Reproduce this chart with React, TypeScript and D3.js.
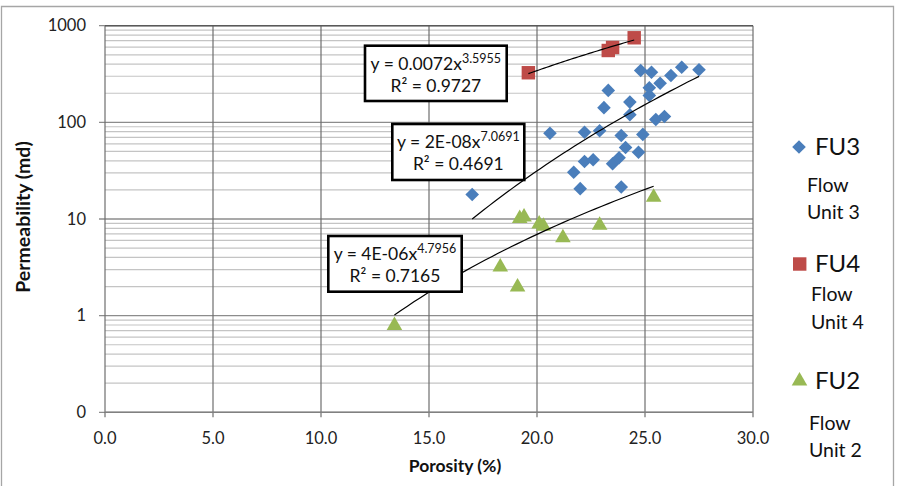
import React from 'react';
import * as d3 from 'd3';

// porosity (%) / permeability (md)
const fu3Porosity = [17.0, 20.6, 22.2, 22.9, 23.3, 23.1, 24.3, 24.3, 24.8, 25.3, 25.2, 25.2, 25.7, 26.2, 26.7, 27.5, 25.5, 25.9, 23.9, 24.9, 24.1, 24.7, 22.2, 22.6, 23.5, 23.8, 21.7, 22.0, 23.9];
const fu3Perm = [17.9, 77, 79, 82, 214, 142, 162, 120, 344, 330, 228, 190, 254, 305, 372, 350, 107, 115, 73, 75, 55, 49, 39.4, 41, 37.3, 43, 30.5, 20.6, 21.4];

const fu4Porosity = [19.6, 23.3, 23.5, 24.5];
const fu4Perm = [326, 554, 595, 750];

const fu2Porosity = [13.4, 18.3, 19.1, 19.2, 19.4, 20.1, 20.3, 21.2, 22.9, 25.4];
const fu2Perm = [0.79, 3.18, 1.98, 10.1, 10.5, 8.9, 8.4, 6.4, 8.6, 16.8];

const xTicks = [0, 5, 10, 15, 20, 25, 30];
const yTicks = [0.1, 1, 10, 100, 1000];
const yTickLabels = ['0', '1', '10', '100', '1000'];

// power trend lines  y = a * x^b
const trends = [
  { name: 'FU4', a: 0.0072, b: 3.5955, r2: '0.9727', coef: '0.0072', xs: fu4Porosity },
  { name: 'FU3', a: 2e-8, b: 7.0691, r2: '0.4691', coef: '2E-08', xs: fu3Porosity },
  { name: 'FU2', a: 4e-6, b: 4.7956, r2: '0.7165', coef: '4E-06', xs: fu2Porosity },
];

const FONT = 'Lato, "Open Sans", sans-serif';
const BLUE = '#4a7ebb';
const RED = '#be4b48';
const GREEN = '#98b954';

const W = 903;
const H = 486;
const plot = { left: 105, right: 753, top: 25.7, bottom: 412.3 };

const x = d3.scaleLinear().domain([0, 30]).range([plot.left, plot.right]);
const y = d3.scaleLog().domain([0.1, 1000]).range([plot.bottom, plot.top]);

const diamond = d3.symbol().type(d3.symbolDiamond2).size(118)();
const square = d3.symbol().type(d3.symbolSquare2).size(230)();
const triangle = d3.symbol().type(d3.symbolTriangle).size(105)();

const minorTicks: number[] = [];
for (let d = 0.1; d < 1000; d *= 10) {
  for (let k = 2; k <= 9; k++) minorTicks.push(+(d * k).toPrecision(3));
}

// where each equation label sits
const boxes = [
  { x: 365, y: 45.7, w: 141.7, h: 55.3 },
  { x: 392.3, y: 124, w: 132, h: 56 },
  { x: 328.3, y: 236, w: 133.4, h: 55.7 },
];

const trendPath = (a: number, b: number, xs: number[]) => {
  const lo = d3.min(xs) as number;
  const hi = d3.max(xs) as number;
  const pts = d3.range(0, 41).map((i) => lo + ((hi - lo) * i) / 40);
  return d3
    .line<number>()
    .x((v) => x(v))
    .y((v) => y(a * Math.pow(v, b)))(pts);
};

export default function App() {
  return (
    <svg
      width={W}
      height={H}
      style={{ position: 'absolute', left: 0, top: 0, background: '#fff' }}
      fontFamily={FONT}
    >
      {/* chart border */}
      <path d={`M1.5,${H} V6.5 H893.5 V${H}`} fill="none" stroke="#a6a6a6" strokeWidth={1.3} />

      {/* minor gridlines */}
      {minorTicks.map((t) => (
        <line key={'m' + t} x1={plot.left} x2={plot.right} y1={y(t)} y2={y(t)} stroke="#c4c4c4" strokeWidth={1.2} />
      ))}
      {/* major horizontal */}
      {yTicks.map((t) => (
        <line key={'h' + t} x1={plot.left - 6} x2={plot.right} y1={y(t)} y2={y(t)} stroke="#8c8c8c" strokeWidth={1.3} />
      ))}
      {/* vertical gridlines */}
      {xTicks.map((t) => (
        <line key={'v' + t} x1={x(t)} x2={x(t)} y1={plot.top} y2={plot.bottom + 5} stroke="#6e6e6e" strokeWidth={1.2} />
      ))}
      <line x1={plot.left} x2={plot.right} y1={plot.top} y2={plot.top} stroke="#595959" strokeWidth={1.6} />
      <line x1={plot.left} x2={plot.right} y1={plot.bottom} y2={plot.bottom} stroke="#808080" strokeWidth={1.6} />

      {/* tick labels */}
      {yTicks.map((t, i) => (
        <text key={'yl' + t} x={86} y={y(t)} dy="0.35em" textAnchor="end" fontSize={16.5} fill="#222">
          {yTickLabels[i]}
        </text>
      ))}
      {xTicks.map((t) => (
        <text key={'xl' + t} x={x(t)} y={438} dy="0.35em" textAnchor="middle" fontSize={16.5} fill="#222">
          {t.toFixed(1)}
        </text>
      ))}

      {/* axis titles */}
      <text x={455} y={465.5} dy="0.35em" textAnchor="middle" fontSize={17.5} fontWeight="bold" fill="#111">
        Porosity (%)
      </text>
      <text
        transform={`translate(23,217) rotate(-90)`}
        dy="0.35em"
        textAnchor="middle"
        fontSize={19.5}
        fontWeight="bold"
        fill="#111"
      >
        Permeability (md)
      </text>

      {/* points */}
      {fu3Porosity.map((p, i) => (
        <path key={'d' + i} d={diamond as string} transform={`translate(${x(p)},${y(fu3Perm[i])})`} fill={BLUE} />
      ))}
      {fu4Porosity.map((p, i) => (
        <path key={'s' + i} d={square as string} transform={`translate(${x(p)},${y(fu4Perm[i])})`} fill={RED} />
      ))}
      {fu2Porosity.map((p, i) => (
        <path key={'t' + i} d={triangle as string} transform={`translate(${x(p)},${y(fu2Perm[i])})`} fill={GREEN} />
      ))}

      {/* trend lines */}
      {trends.map((t) => (
        <path key={'tr' + t.name} d={trendPath(t.a, t.b, t.xs) as string} fill="none" stroke="#000" strokeWidth={1.2} />
      ))}

      {/* equation labels */}
      {trends.map((t, i) => {
        const b = boxes[i];
        const cx = b.x + b.w / 2;
        return (
          <g key={'eq' + t.name}>
            <rect x={b.x} y={b.y} width={b.w} height={b.h} fill="#fff" stroke="#000" strokeWidth={2.6} />
            <text x={cx} y={b.y + 18} dy="0.35em" textAnchor="middle" fontSize={17.5} fill="#111">
              {`y = ${t.coef}x`}
              <tspan fontSize={12.5} dy="-0.55em">{t.b.toFixed(4)}</tspan>
            </text>
            <text x={cx} y={b.y + 40} dy="0.35em" textAnchor="middle" fontSize={17.5} fill="#111">
              {`R² = ${t.r2}`}
            </text>
          </g>
        );
      })}

      {/* legend */}
      <path d={diamond as string} transform="translate(799,147)" fill={BLUE} />
      <text x={815} y={147} dy="0.35em" fontSize={24} fill="#111">FU3</text>
      <text x={807} y={185} dy="0.35em" fontSize={19.5} fill="#111">Flow</text>
      <text x={807} y={212} dy="0.35em" fontSize={19.5} fill="#111">Unit 3</text>

      <path d={square as string} transform="translate(799.7,264)" fill={RED} />
      <text x={815} y={264} dy="0.35em" fontSize={24} fill="#111">FU4</text>
      <text x={811} y={294} dy="0.35em" fontSize={19.5} fill="#111">Flow</text>
      <text x={811} y={322} dy="0.35em" fontSize={19.5} fill="#111">Unit 4</text>

      <path d={triangle as string} transform="translate(799.5,381)" fill={GREEN} />
      <text x={815} y={381} dy="0.35em" fontSize={24} fill="#111">FU2</text>
      <text x={809} y={423} dy="0.35em" fontSize={19.5} fill="#111">Flow</text>
      <text x={809} y={450} dy="0.35em" fontSize={19.5} fill="#111">Unit 2</text>
    </svg>
  );
}
